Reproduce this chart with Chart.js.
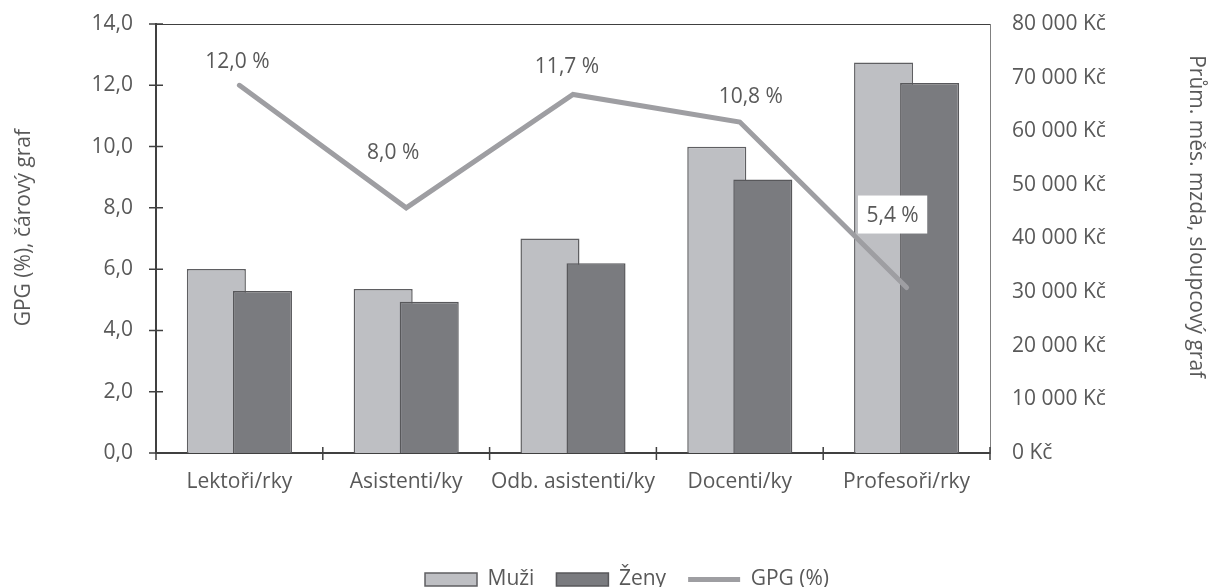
<!DOCTYPE html>
<html lang="cs">
<head>
<meta charset="utf-8">
<title>GPG</title>
<script src="https://cdn.jsdelivr.net/npm/chart.js@4/dist/chart.umd.min.js"></script>
<style>
    html, body { margin: 0; padding: 0; background: #fff; overflow: hidden; }
    #wrap { width: 1208px; height: 587px; position: relative; }
</style>
</head>
<body>
<div id="wrap"><canvas id="chart"></canvas></div>
<script>
// Data
const categories = ['Lektoři/rky', 'Asistenti/ky', 'Odb. asistenti/ky', 'Docenti/ky', 'Profesoři/rky'];
const muzi = [34300, 30600, 40000, 57100, 72800];
const zeny = [30200, 28200, 35400, 51000, 69000];
const gpg = [12.0, 8.0, 11.7, 10.8, 5.4];

const TEXT = '#595959';
const FONT = "'Open Sans', 'Noto Sans', sans-serif";
const FS = 21;

const formatPct = (v) => v.toFixed(1).replace('.', ',');
const formatKc = (v) => (v === 0 ? '0' : v.toLocaleString('en-US').replace(/,/g, '\u00a0')) + ' Kč';

// Muži / Ženy bars overlap a bit, shift them apart from the category centre
const barShift = {
    id: 'barShift',
    afterDatasetsUpdate(chart) {
        [[0, -1], [1, 1]].forEach(([idx, dir]) => {
            chart.getDatasetMeta(idx).data.forEach(el => {
                el.x += dir * el.width * 0.39;
            });
        });
    }
};

// Cross tick marks and the top frame line
const axisMarks = {
    id: 'axisMarks',
    afterDraw(chart) {
        const ctx = chart.ctx;
        const area = chart.chartArea;
        const y = chart.scales.y;
        ctx.save();
        ctx.strokeStyle = '#404040';
        ctx.lineWidth = 1.5;
        ctx.beginPath();
        y.ticks.forEach((t, i) => {
            const py = y.getPixelForTick(i);
            ctx.moveTo(area.left - 7, py);
            ctx.lineTo(area.left + 7, py);
        });
        const step = (area.right - area.left) / categories.length;
        for (let k = 0; k <= categories.length; k++) {
            const px = area.left + k * step;
            ctx.moveTo(px, area.bottom - 6);
            ctx.lineTo(px, area.bottom + 7);
        }
        ctx.stroke();
        ctx.lineWidth = 1;
        ctx.beginPath();
        ctx.moveTo(area.left, area.top + 0.5);
        ctx.lineTo(area.right, area.top + 0.5);
        ctx.stroke();
        ctx.restore();
    }
};

// Data labels of the GPG line
const gpgLabels = {
    id: 'gpgLabels',
    afterDatasetsDraw(chart, args, opts) {
        const ctx = chart.ctx;
        const meta = chart.getDatasetMeta(2);
        ctx.save();
        ctx.font = `${FS}px ${FONT}`;
        ctx.textAlign = 'center';
        ctx.textBaseline = 'middle';
        meta.data.forEach((pt, i) => {
            const [dx, dy] = opts.shift[i];
            const text = formatPct(gpg[i]) + ' %';
            const w = ctx.measureText(text).width + 17;
            const cx = pt.x + dx;
            const cy = pt.y + dy;
            if (opts.boxed[i]) {
                ctx.fillStyle = '#fff';
                ctx.fillRect(cx - w / 2, cy - 19, w, 38);
            }
            ctx.fillStyle = TEXT;
            ctx.fillText(text, cx, cy + 1);
        });
        ctx.restore();
    }
};

// keep the plot frame where the layout puts it (no label overhang on top)
const noOverhang = (s) => { s.paddingTop = 0; };

Chart.defaults.font.family = FONT;
Chart.defaults.font.size = FS;
Chart.defaults.color = TEXT;

new Chart(document.getElementById('chart'), {
    type: 'bar',
    data: {
        labels: categories,
        datasets: [
            {
                label: 'Muži',
                data: muzi,
                yAxisID: 'y1',
                backgroundColor: '#BEBFC3',
                borderColor: '#5F5F62',
                borderWidth: 1.5,
                grouped: false,
                categoryPercentage: 1,
                barPercentage: 0.354,
                order: 3
            },
            {
                label: 'Ženy',
                data: zeny,
                yAxisID: 'y1',
                backgroundColor: '#7A7B7F',
                borderColor: '#58585B',
                borderWidth: 1.5,
                grouped: false,
                categoryPercentage: 1,
                barPercentage: 0.354,
                order: 2
            },
            {
                type: 'line',
                label: 'GPG (%)',
                data: gpg,
                yAxisID: 'y',
                borderColor: '#9E9EA2',
                backgroundColor: '#9E9EA2',
                borderWidth: 5,
                borderCapStyle: 'round',
                borderJoinStyle: 'miter',
                pointRadius: 0,
                tension: 0,
                order: 1
            }
        ]
    },
    options: {
        responsive: true,
        maintainAspectRatio: false,
        animation: false,
        layout: { padding: { top: 24, left: 46, right: 0, bottom: -13 } },
        scales: {
            x: {
                offset: true,
                grid: { display: false, drawTicks: false },
                border: { display: true, color: '#404040', width: 2 },
                ticks: { color: TEXT, padding: 16, maxRotation: 0, autoSkip: false },
                afterFit: (s) => { s.height = 94; }
            },
            y: {
                position: 'left',
                min: 0,
                max: 14,
                grid: { display: false, drawTicks: false },
                border: { display: true, color: '#404040', width: 2 },
                ticks: { stepSize: 2, padding: 23, color: TEXT, callback: (v) => formatPct(v) },
                title: {
                    display: true,
                    text: '    GPG (%), čárový graf',
                    color: TEXT,
                    font: { size: FS },
                    padding: { top: -35 }
                },
                afterFit: (s) => { s.width = 110; noOverhang(s); }
            },
            y1: {
                position: 'right',
                min: 0,
                max: 80000,
                grid: { display: false, drawTicks: false },
                border: { display: true, color: '#808080', width: 1 },
                ticks: { stepSize: 10000, padding: 22, color: TEXT, callback: (v) => formatKc(v) },
                title: {
                    display: true,
                    text: 'Prům. měs. mzda, sloupcový graf        ',
                    color: TEXT,
                    font: { size: FS },
                    padding: { top: -1 }
                },
                afterFit: (s) => { s.width = 218; noOverhang(s); }
            }
        },
        plugins: {
            legend: {
                position: 'bottom',
                labels: {
                    usePointStyle: true,
                    pointStyleWidth: 52,
                    boxHeight: 13,
                    padding: 22,
                    color: TEXT,
                    font: { size: FS },
                    generateLabels: (chart) => {
                        const items = Chart.defaults.plugins.legend.labels.generateLabels(chart);
                        items.forEach(it => { it.pointStyle = it.datasetIndex === 2 ? 'line' : 'rect'; });
                        return items.sort((a, b) => a.datasetIndex - b.datasetIndex);
                    }
                }
            },
            tooltip: { enabled: false },
            gpgLabels: {
                shift: [[-2, -24], [-13, -56], [-6, -28], [11, -26], [-14, -73]],
                boxed: [false, false, false, false, true]
            }
        }
    },
    plugins: [barShift, axisMarks, gpgLabels]
});
</script>
</body>
</html>
